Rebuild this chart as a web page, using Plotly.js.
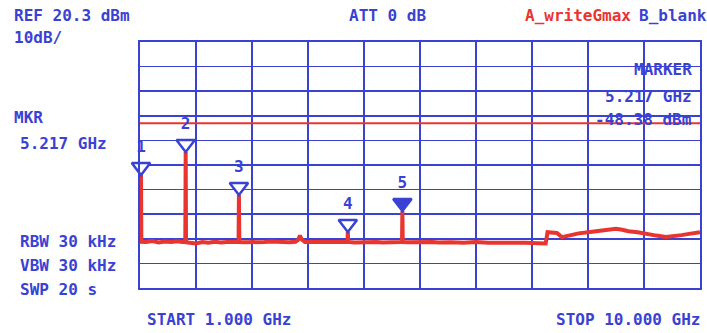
<!DOCTYPE html>
<html>
<head>
<meta charset="utf-8">
<script src="https://cdn.plot.ly/plotly-3.0.1.min.js"></script>
<style>html,body{margin:0;padding:0;background:#fff;}#chart{width:707px;height:333px;}</style>
</head>
<body>
<div id="chart"></div>
<script>
// Trace A (write / max hold), frequency in GHz, level in dBm
const freqGHz = [1.000, 1.010, 1.016, 1.022, 1.10, 1.20, 1.30, 1.40, 1.50, 1.60, 1.68, 1.728, 1.734, 1.740, 1.80, 1.90, 2.00, 2.10, 2.20, 2.30, 2.40, 2.50, 2.584, 2.590, 2.596, 2.70, 2.80, 2.90, 3.00, 3.10, 3.20, 3.30, 3.40, 3.50, 3.54, 3.57, 3.60, 3.65, 3.80, 3.90, 4.00, 4.10, 4.20, 4.30, 4.334, 4.340, 4.346, 4.45, 4.60, 4.70, 4.80, 4.90, 5.00, 5.10, 5.18, 5.211, 5.217, 5.223, 5.30, 5.40, 5.50, 5.60, 5.70, 5.80, 5.90, 6.00, 6.20, 6.40, 6.60, 6.80, 7.00, 7.20, 7.40, 7.52, 7.55, 7.62, 7.70, 7.78, 7.85, 7.95, 8.05, 8.20, 8.35, 8.50, 8.65, 8.75, 8.85, 9.00, 9.15, 9.30, 9.45, 9.55, 9.70, 9.85, 10.00];
const levelDbm = [-60.8, -60.8, -33.8, -60.9, -61.0, -60.6, -61.2, -60.8, -61.0, -60.7, -61.0, -61.0, -24.4, -61.1, -61.3, -61.6, -61.0, -61.3, -60.9, -61.2, -61.0, -61.1, -61.0, -41.9, -61.0, -61.1, -61.2, -60.9, -61.0, -60.8, -61.0, -60.9, -61.1, -60.9, -60.2, -58.4, -60.0, -61.0, -61.0, -61.2, -61.0, -61.1, -60.9, -61.0, -61.0, -56.9, -61.0, -61.2, -61.0, -61.1, -61.0, -61.2, -61.0, -61.1, -61.0, -61.0, -48.4, -61.0, -61.1, -61.0, -61.2, -61.1, -61.0, -61.2, -61.0, -61.1, -61.3, -61.0, -61.3, -61.2, -61.4, -61.3, -61.5, -61.6, -57.0, -57.0, -57.3, -59.0, -58.6, -58.0, -57.5, -57.0, -56.5, -56.0, -55.6, -56.0, -56.6, -57.0, -57.5, -58.4, -59.0, -58.8, -58.2, -57.6, -57.0];

// Markers
const mkrFreq = [1.016, 1.734, 2.590, 4.340, 5.217];
const mkrLevel = [-33.8, -24.4, -41.9, -56.9, -48.4];
const mkrLabel = ['1', '2', '3', '4', '5'];
const mkrActive = [false, false, false, false, true];

// Display line
const displayLine = -12.7;

// Axis settings
const startGHz = 1.0, stopGHz = 10.0;
const refDbm = 20.3, dbPerDiv = 10, divs = 10;

const BLUE = '#3a42d4';
const RED = '#e8352f';
const FONT = 'DejaVu Sans Mono, Liberation Mono, monospace';

const plotH = 246;
const pxPerDb = plotH / (dbPerDiv * divs);
const triSize = 16;
const mkrY = mkrLevel.map(v => v + (triSize / 2) / pxPerDb);

const traces = [
  {
    x: [startGHz, stopGHz], y: [displayLine, displayLine],
    mode: 'lines', line: {color: RED, width: 2}, hoverinfo: 'skip', showlegend: false
  },
  {
    x: freqGHz, y: levelDbm, mode: 'lines',
    line: {color: RED, width: 4}, showlegend: false
  },
  {
    x: mkrFreq, y: mkrY, mode: 'markers+text', text: mkrLabel,
    textposition: 'top center',
    textfont: {family: FONT, size: 16, color: BLUE, weight: 'bold'},
    marker: {
      symbol: 'triangle-down', size: triSize,
      color: mkrActive.map(a => a ? BLUE : '#ffffff'),
      line: {color: BLUE, width: 2.5}
    },
    showlegend: false, cliponaxis: false
  }
];

function px2x(px) { return (px - 140) / 560; }
function px2y(py) { return (288 - py) / 246; }
function ann(text, px, py, anchor, color) {
  return {
    text: text, xref: 'paper', yref: 'paper', x: px2x(px), y: px2y(py),
    xanchor: anchor, yanchor: 'middle', showarrow: false,
    font: {family: FONT, size: 16, color: color || BLUE, weight: 'bold'}
  };
}

const annotations = [
  ann('REF ' + refDbm.toFixed(1) + ' dBm', 12, 16, 'left'),
  ann(dbPerDiv + 'dB/', 12, 37, 'left'),
  ann('ATT 0 dB', 387, 16, 'center'),
  ann('A_writeGmax', 523, 16, 'left', RED),
  ann('B_blank', 637, 16, 'left'),
  ann('MKR', 12, 117, 'left'),
  ann(mkrFreq[4].toFixed(3) + ' GHz', 18, 143, 'left'),
  ann('MARKER', 694, 70, 'right'),
  ann(mkrFreq[4].toFixed(3) + ' GHz', 694, 96, 'right'),
  ann('-48.38 dBm', 694, 119, 'right'),
  ann('RBW 30 kHz', 18, 241, 'left'),
  ann('VBW 30 kHz', 18, 265, 'left'),
  ann('SWP 20 s', 18, 289, 'left'),
  ann('START ' + startGHz.toFixed(3) + ' GHz', 145, 319, 'left'),
  ann('STOP ' + stopGHz.toFixed(3) + ' GHz', 703, 319, 'right')
];

const layout = {
  width: 707, height: 333,
  margin: {l: 140, r: 7, t: 42, b: 45, pad: 0},
  paper_bgcolor: '#ffffff', plot_bgcolor: '#ffffff',
  xaxis: {
    range: [startGHz, stopGHz], tick0: startGHz, dtick: (stopGHz - startGHz) / divs,
    showgrid: true, gridcolor: BLUE, gridwidth: 2, zeroline: false,
    showticklabels: false, ticks: '', showline: true, mirror: true,
    linecolor: BLUE, linewidth: 2, fixedrange: true
  },
  yaxis: {
    range: [refDbm - dbPerDiv * divs, refDbm], tick0: refDbm, dtick: dbPerDiv,
    showgrid: true, gridcolor: BLUE, gridwidth: 1.5, zeroline: false,
    showticklabels: false, ticks: '', showline: true, mirror: true,
    linecolor: BLUE, linewidth: 2, fixedrange: true
  },
  annotations: annotations,
  showlegend: false
};

Plotly.newPlot('chart', traces, layout, {displayModeBar: false, staticPlot: true});
</script>
</body>
</html>
